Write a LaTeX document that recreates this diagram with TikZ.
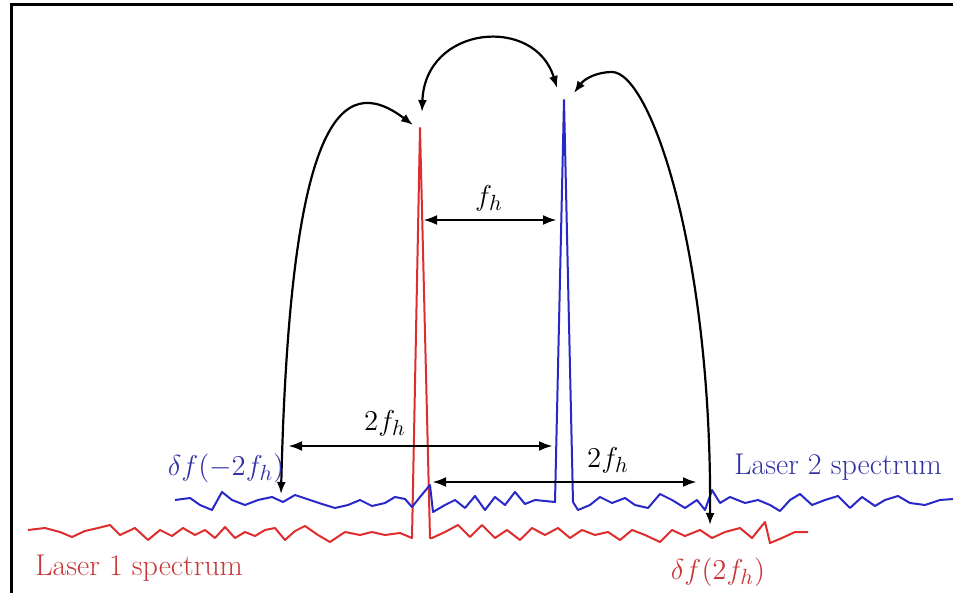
\documentclass[tikz,border=0pt]{standalone}
\usepackage{tikz}
\usetikzlibrary{arrows.meta, calc}
\definecolor{LaserRed}{RGB}{222,45,45}
\definecolor{LaserBlue}{RGB}{40,40,200}
\definecolor{LabelRed}{RGB}{200,55,55}
\definecolor{LabelBlue}{RGB}{50,50,165}

\begin{document}
\begin{tikzpicture}[x=0.5pt,y=-0.5pt,
    spec/.style={line width=1pt, line join=round},
    jump/.style={line width=1.1pt, {Latex[length=6pt,width=4.5pt]}-{Latex[length=6pt,width=4.5pt]}},
    gap/.style={line width=1.4pt, {Latex[length=7pt,width=5pt]}-{Latex[length=7pt,width=5pt]}},
    lbl/.style={font=\fontsize{15}{18}\selectfont, inner sep=1pt}]
  \useasboundingbox (0,0) rectangle (953,593);
  \draw[line width=1.5pt] (11,593) -- (11,5) -- (953,5);

  % peaks of the two lasers
  \coordinate (redL) at (412,538);
  \coordinate (redtip) at (420,128);
  \coordinate (redR) at (430,538);
  \coordinate (blueL) at (555,502);
  \coordinate (bluetip) at (564,100);
  \coordinate (blueR) at (573,502);

  % laser 1 spectrum
  \draw[spec, LaserRed] plot coordinates {(28,530) (45,528) (60,532) (72,537) (85,531) (98,528) (110,525)
      (120,535) (135,528) (148,540) (160,530) (172,536) (183,528) (195,535) (205,530) (215,538) (225,527)
      (235,538) (245,532) (255,536) (265,530) (275,528) (285,540) (295,531) (305,526) (318,535) (330,542)
      (345,532) (360,535) (372,532) (385,535) (400,533) (412,538)}
    -- (redtip) -- (redR)
    -- plot coordinates {(432,538) (445,532) (458,525) (470,537) (482,525) (495,538) (507,530) (520,540)
      (532,528) (545,535) (558,528) (570,538) (582,530) (595,535) (608,532) (620,540) (632,530) (645,535)
      (660,542) (672,530) (685,536) (700,530) (712,538) (725,532) (740,528) (752,538) (765,522) (770,543)
      (782,538) (795,532) (808,532)};

  % laser 2 spectrum
  \draw[spec, LaserBlue] plot coordinates {(175,500) (190,498) (200,505) (212,510) (222,492) (232,500)
      (245,505) (258,500) (272,497) (283,502) (295,495) (310,500) (322,504) (335,508) (348,505) (360,500)
      (372,506) (385,503) (395,497) (405,499) (412,507) (420,497) (430,485) (433,512) (445,505) (455,500)
      (465,508) (475,496) (485,510) (495,497) (505,505) (515,492) (525,504) (535,500) (555,502)}
    -- (bluetip) -- (blueR)
    -- plot coordinates {(578,510) (590,505) (600,497) (612,503) (625,498) (635,505) (648,508) (660,494)
      (672,500) (685,508) (697,500) (705,510) (712,490) (720,503) (730,497) (745,503) (758,500) (770,505)
      (780,511) (790,500) (800,494) (812,505) (825,500) (838,496) (850,508) (862,497) (875,506) (885,500)
      (898,496) (910,503) (925,505) (940,500) (953,499)};

  % beat note spacings
  \coordinate (fhL) at (423,220);
  \coordinate (fhR) at (557,220);
  \draw[gap] (fhL) -- (fhR);
  \node[lbl] (fh) at (489,198) {$f_h$};

  \coordinate (lowL) at (288,446);
  \coordinate (lowR) at (553,446);
  \draw[gap] (lowL) -- (lowR);
  \node[lbl] (fhleft) at (385,423) {$2f_h$};

  \coordinate (upL) at (432,482);
  \coordinate (upR) at (697,482);
  \draw[gap] (upL) -- (upR);
  \node[lbl] (fhright) at (608,460) {$2f_h$};

  % curved transfers between the lines
  \coordinate (minus) at (281,494);
  \coordinate (redin) at (413,125);
  \coordinate (redtop) at (422,112);
  \coordinate (bluein) at (557,88);
  \coordinate (blueout) at (574,93);
  \coordinate (apex) at (612,72);
  \coordinate (plus) at (710,525);
  \draw[jump] (minus) .. controls (290,120) and (340,70) .. (redin);
  \draw[jump] (redtop) .. controls (425,25) and (535,15) .. (bluein);
  \draw[jump] (blueout) .. controls (585,78) and (598,72) .. (apex)
    .. controls (650,72) and (712,250) .. (plus);

  % labels
  \node[lbl, text=LabelBlue] (dminus) at (226,468) {$\delta f(-2f_h)$};
  \node[lbl, text=LabelBlue] (laser2) at (838,467) {Laser 2 spectrum};
  \node[lbl, text=LabelRed, anchor=west] (laser1) at (33,568) {Laser 1 spectrum};
  \node[lbl, text=LabelRed] (dplus) at (718,572) {$\delta f(2f_h)$};
\end{tikzpicture}
\end{document}
